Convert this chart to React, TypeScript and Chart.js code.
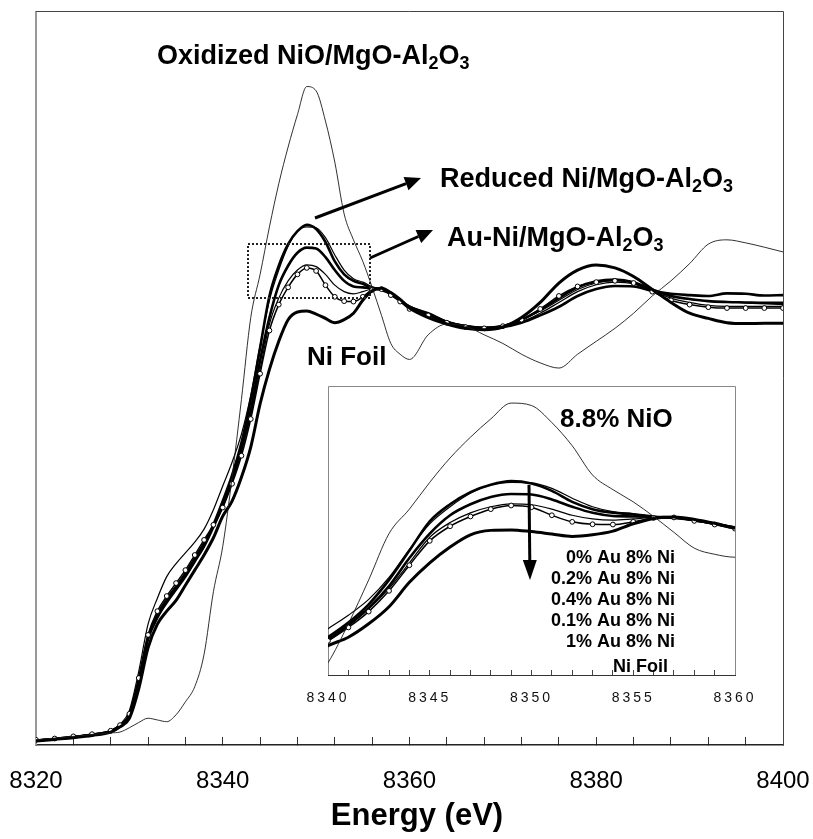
import React, { useEffect, useRef } from 'react';
import { Chart, registerables } from 'chart.js';

Chart.register(...registerables);

const FONT = 'Arial, "Liberation Sans", Helvetica, sans-serif';

// ---- data (normalized absorption vs energy in eV) ----
const energy = [8320, 8322, 8324, 8326, 8328, 8329, 8330, 8331, 8332, 8333, 8334, 8335, 8336, 8337, 8338, 8339,
  8340, 8341, 8342, 8343, 8344, 8345, 8346, 8347, 8348, 8349, 8350, 8351, 8352, 8353, 8354, 8355, 8356, 8357, 8358, 8359, 8360,
  8362, 8364, 8366, 8368, 8370, 8372, 8374, 8376, 8378, 8380, 8382, 8384, 8386, 8388, 8390, 8392, 8394, 8396, 8398, 8400];

const nioOxidized = [0.012, 0.016, 0.02, 0.024, 0.028, 0.03, 0.04, 0.052, 0.062, 0.058, 0.054, 0.07, 0.1, 0.135, 0.21, 0.355,
  0.46, 0.62, 0.8, 0.99, 1.09, 1.2, 1.3, 1.385, 1.46, 1.525, 1.515, 1.445, 1.35, 1.23, 1.17, 1.12, 1.06, 0.995, 0.93, 0.905, 0.893,
  0.95, 0.975, 0.97, 0.95, 0.93, 0.905, 0.885, 0.873, 0.905, 0.935, 0.965, 1.0, 1.04, 1.075, 1.115, 1.16, 1.17, 1.163, 1.153, 1.142];

const au0Ni8 = [0.01, 0.014, 0.018, 0.024, 0.032, 0.045, 0.07, 0.15, 0.25, 0.3, 0.335, 0.365, 0.395, 0.43, 0.465, 0.51,
  0.565, 0.625, 0.7, 0.8, 0.92, 1.04, 1.11, 1.16, 1.19, 1.205, 1.195, 1.165, 1.12, 1.09, 1.075, 1.068, 1.058, 1.054, 1.045, 1.03, 1.015,
  1.0, 0.98, 0.97, 0.966, 0.968, 0.978, 0.995, 1.015, 1.04, 1.056, 1.063, 1.062, 1.052, 1.045, 1.042, 1.04, 1.046, 1.045, 1.041, 1.042];

const au02Ni8 = [0.011, 0.015, 0.019, 0.025, 0.034, 0.048, 0.08, 0.17, 0.28, 0.34, 0.39, 0.42, 0.445, 0.47, 0.5, 0.545,
  0.6, 0.655, 0.72, 0.81, 0.925, 1.03, 1.1, 1.155, 1.19, 1.2, 1.198, 1.175, 1.135, 1.1, 1.08, 1.072, 1.062, 1.055, 1.045, 1.03, 1.016,
  1.0, 0.982, 0.972, 0.968, 0.972, 0.985, 1.005, 1.03, 1.055, 1.07, 1.076, 1.072, 1.055, 1.04, 1.032, 1.028, 1.026, 1.024, 1.022, 1.02];

const au04Ni8 = [0.01, 0.014, 0.018, 0.023, 0.031, 0.043, 0.068, 0.145, 0.245, 0.295, 0.33, 0.36, 0.39, 0.425, 0.46, 0.505,
  0.555, 0.615, 0.685, 0.775, 0.89, 0.99, 1.065, 1.11, 1.14, 1.152, 1.15, 1.13, 1.1, 1.075, 1.062, 1.06, 1.058, 1.056, 1.045, 1.03, 1.015,
  0.998, 0.98, 0.97, 0.965, 0.97, 0.985, 1.008, 1.035, 1.06, 1.074, 1.078, 1.072, 1.055, 1.04, 1.033, 1.028, 1.026, 1.025, 1.024, 1.024];

const au01Ni8 = [0.011, 0.014, 0.019, 0.024, 0.032, 0.044, 0.07, 0.15, 0.25, 0.305, 0.34, 0.37, 0.4, 0.435, 0.47, 0.505,
  0.55, 0.61, 0.68, 0.765, 0.87, 0.975, 1.035, 1.075, 1.1, 1.112, 1.108, 1.09, 1.065, 1.05, 1.045, 1.05, 1.056, 1.056, 1.045, 1.03, 1.012,
  0.995, 0.978, 0.968, 0.964, 0.968, 0.98, 1.0, 1.025, 1.05, 1.066, 1.072, 1.068, 1.052, 1.035, 1.025, 1.018, 1.016, 1.016, 1.016, 1.016];

const au1Ni8 = [0.012, 0.015, 0.02, 0.025, 0.033, 0.046, 0.072, 0.155, 0.255, 0.31, 0.345, 0.375, 0.405, 0.44, 0.475, 0.51,
  0.55, 0.605, 0.67, 0.755, 0.86, 0.96, 1.02, 1.06, 1.09, 1.105, 1.098, 1.065, 1.038, 1.028, 1.027, 1.038, 1.054, 1.056, 1.042, 1.027, 1.01,
  0.995, 0.978, 0.968, 0.965, 0.97, 0.985, 1.01, 1.04, 1.062, 1.072, 1.075, 1.07, 1.05, 1.03, 1.02, 1.014, 1.012, 1.012, 1.012, 1.012];

const niFoil = [0.009, 0.013, 0.017, 0.022, 0.03, 0.042, 0.062, 0.13, 0.225, 0.28, 0.31, 0.335, 0.37, 0.405, 0.44, 0.48,
  0.53, 0.565, 0.62, 0.69, 0.79, 0.87, 0.935, 0.985, 1.003, 1.005, 0.998, 0.988, 0.978, 0.985, 1.0, 1.03, 1.052, 1.058, 1.048, 1.032, 1.012,
  0.99, 0.975, 0.965, 0.962, 0.968, 0.99, 1.025, 1.07, 1.1, 1.112, 1.105, 1.085, 1.055, 1.025, 1.0, 0.988, 0.978, 0.976, 0.977, 0.977];

const mainRange = [8320, 8400];
const mainTickStep = 4;
const mainLabelStep = 20;
const insetRange = [8340, 8360];
const insetTickStep = 1;
const insetLabelStep = 5;

const insetTitle = '8.8% NiO';
const insetLegend = ['0% Au 8% Ni', '0.2% Au 8% Ni', '0.4% Au 8% Ni', '0.1% Au 8% Ni', '1% Au 8% Ni', 'Ni Foil'];
const axisTitle = 'Energy (eV)';

type Part = [string, boolean];
const labelOxidized: Part[] = [['Oxidized NiO/MgO-Al', false], ['2', true], ['O', false], ['3', true]];
const labelReduced: Part[] = [['Reduced Ni/MgO-Al', false], ['2', true], ['O', false], ['3', true]];
const labelAuNi: Part[] = [['Au-Ni/MgO-Al', false], ['2', true], ['O', false], ['3', true]];
const labelFoil: Part[] = [['Ni Foil', false]];

function pts(arr: number[]) {
  return energy.map((e, i) => ({ x: e, y: arr[i] }));
}

function makeDatasets() {
  const base = { pointRadius: 0, borderColor: '#000', cubicInterpolationMode: 'monotone' as const, fill: false };
  return [
    { ...base, label: 'NiO', data: pts(nioOxidized), borderWidth: 0.9, borderColor: '#1a1a1a' },
    { ...base, label: insetLegend[5], data: pts(niFoil), borderWidth: 3 },
    { ...base, label: insetLegend[4], data: pts(au1Ni8), borderWidth: 1.5, pointRadius: 2.4, pointBorderWidth: 1,
      pointBackgroundColor: '#fff', pointBorderColor: '#000' },
    { ...base, label: insetLegend[3], data: pts(au01Ni8), borderWidth: 1.2 },
    { ...base, label: insetLegend[2], data: pts(au04Ni8), borderWidth: 2.6 },
    { ...base, label: insetLegend[1], data: pts(au02Ni8), borderWidth: 1.2 },
    { ...base, label: insetLegend[0], data: pts(au0Ni8), borderWidth: 2.6 },
  ];
}

function drawRich(ctx: CanvasRenderingContext2D, parts: Part[], x: number, y: number, size: number) {
  const subSize = Math.round(size * 0.68);
  const fontFor = (sub: boolean) => `bold ${sub ? subSize : size}px ${FONT}`;
  ctx.textBaseline = 'alphabetic';
  ctx.textAlign = 'left';
  ctx.fillStyle = '#000';
  let cx = x;
  for (const [t, sub] of parts) {
    ctx.font = fontFor(sub);
    ctx.fillText(t, cx, sub ? y + size * 0.2 : y);
    cx += ctx.measureText(t).width;
  }
}

function arrow(ctx: CanvasRenderingContext2D, x1: number, y1: number, x2: number, y2: number, w: number, head: number, half: number) {
  const a = Math.atan2(y2 - y1, x2 - x1);
  const bx = x2 - head * Math.cos(a);
  const by = y2 - head * Math.sin(a);
  ctx.strokeStyle = '#000';
  ctx.lineWidth = w;
  ctx.setLineDash([]);
  ctx.beginPath();
  ctx.moveTo(x1, y1);
  ctx.lineTo(bx, by);
  ctx.stroke();
  ctx.fillStyle = '#000';
  ctx.beginPath();
  ctx.moveTo(x2, y2);
  ctx.lineTo(bx + half * Math.sin(a), by - half * Math.cos(a));
  ctx.lineTo(bx - half * Math.sin(a), by + half * Math.cos(a));
  ctx.closePath();
  ctx.fill();
}

const mainFrame = {
  id: 'mainFrame',
  beforeDatasetsDraw(chart: any) {
    const { ctx, chartArea: a } = chart;
    ctx.save();
    ctx.strokeStyle = '#999';
    ctx.lineWidth = 2;
    ctx.beginPath(); ctx.moveTo(a.left, a.top); ctx.lineTo(a.left, a.bottom); ctx.stroke();
    ctx.strokeStyle = '#444';
    ctx.lineWidth = 1;
    ctx.beginPath(); ctx.moveTo(a.left, a.top + 0.5); ctx.lineTo(a.right + 0.5, a.top + 0.5); ctx.lineTo(a.right + 0.5, a.bottom); ctx.stroke();
    ctx.restore();
  },
  afterDraw(chart: any) {
    const { ctx } = chart;
    ctx.save();
    drawRich(ctx, labelOxidized, 157, 64, 27);
    drawRich(ctx, labelReduced, 440, 187, 27);
    drawRich(ctx, labelAuNi, 447, 246, 27);
    drawRich(ctx, labelFoil, 307, 365, 26);
    arrow(ctx, 315, 218, 421, 178, 3, 16, 7);
    arrow(ctx, 370, 258, 433, 230, 3, 16, 7);
    ctx.strokeStyle = '#222';
    ctx.lineWidth = 2;
    ctx.setLineDash([2, 2]);
    ctx.strokeRect(248, 244, 122, 54);
    ctx.setLineDash([]);
    ctx.font = `bold 31px ${FONT}`;
    ctx.textAlign = 'center';
    ctx.textBaseline = 'alphabetic';
    ctx.fillStyle = '#000';
    ctx.fillText(axisTitle, 417, 825);
    ctx.restore();
  },
};

const insetFrame = {
  id: 'insetFrame',
  beforeDraw(chart: any) {
    const { ctx, chartArea: a } = chart;
    ctx.save();
    ctx.fillStyle = '#fff';
    ctx.fillRect(a.left, a.top, a.right - a.left, a.bottom - a.top);
    ctx.restore();
    (ctx as any).letterSpacing = '3px';
  },
  beforeDatasetsDraw(chart: any) {
    const { ctx, chartArea: a } = chart;
    (ctx as any).letterSpacing = '0px';
    ctx.save();
    ctx.strokeStyle = '#888';
    ctx.lineWidth = 1;
    ctx.beginPath();
    ctx.moveTo(a.left + 0.5, a.bottom); ctx.lineTo(a.left + 0.5, a.top + 0.5);
    ctx.lineTo(a.right + 0.5, a.top + 0.5); ctx.lineTo(a.right + 0.5, a.bottom);
    ctx.stroke();
    ctx.restore();
  },
  afterDraw(chart: any) {
    const { ctx } = chart;
    (ctx as any).letterSpacing = '0px';
    ctx.save();
    ctx.fillStyle = '#000';
    ctx.font = `bold 26px ${FONT}`;
    ctx.textAlign = 'left';
    ctx.textBaseline = 'alphabetic';
    ctx.fillText(insetTitle, 260, 57);
    ctx.font = `bold 18px ${FONT}`;
    ctx.textAlign = 'right';
    const baselines = [193, 214, 235, 256, 277, 302];
    insetLegend.forEach((t, i) => {
      ctx.fillText(t, i === 5 ? 368 : 375, baselines[i]);
    });
    arrow(ctx, 229, 115, 230, 210, 3, 20, 7);
    ctx.restore();
  },
};

function fitHeight(h: number) {
  return (s: any) => {
    s.height = h;
    s.paddingLeft = 0;
    s.paddingRight = 0;
  };
}

export default function App() {
  const mainRef = useRef<HTMLCanvasElement>(null);
  const insetRef = useRef<HTMLCanvasElement>(null);

  useEffect(() => {
    const main = new Chart(mainRef.current as HTMLCanvasElement, {
      type: 'line',
      data: { datasets: makeDatasets() as any },
      options: {
        animation: false,
        responsive: false,
        maintainAspectRatio: false,
        layout: { padding: { left: 36, right: 30, top: 11, bottom: 0 } },
        plugins: { legend: { display: false }, tooltip: { enabled: false } },
        scales: {
          x: {
            type: 'linear',
            min: mainRange[0],
            max: mainRange[1],
            afterFit: fitHeight(94),
            ticks: {
              stepSize: mainTickStep,
              autoSkip: false,
              maxRotation: 0,
              padding: 30,
              color: '#000',
              font: { size: 24, family: FONT },
              callback: (v: any) => (Number(v) % mainLabelStep === 0 ? String(v) : ''),
            },
            grid: { drawOnChartArea: false, drawTicks: true, tickLength: -8, color: '#333', lineWidth: 1 },
            border: { display: true, color: '#222', width: 1.5 },
          },
          y: { display: false, min: 0, max: 1.7 },
        },
      } as any,
      plugins: [mainFrame],
    });

    const inset = new Chart(insetRef.current as HTMLCanvasElement, {
      type: 'line',
      data: { datasets: makeDatasets() as any },
      options: {
        animation: false,
        responsive: false,
        maintainAspectRatio: false,
        layout: { padding: { left: 28, right: 45, top: 16, bottom: 0 } },
        plugins: { legend: { display: false }, tooltip: { enabled: false } },
        scales: {
          x: {
            type: 'linear',
            min: insetRange[0],
            max: insetRange[1],
            afterFit: fitHeight(40),
            ticks: {
              stepSize: insetTickStep,
              autoSkip: false,
              maxRotation: 0,
              padding: 20,
              color: '#111',
              font: { size: 14, family: FONT },
              callback: (v: any) => (Number(v) % insetLabelStep === 0 ? String(v) : ''),
            },
            grid: { drawOnChartArea: false, drawTicks: true, tickLength: -5, color: '#444', lineWidth: 1 },
            border: { display: true, color: '#333', width: 1 },
          },
          y: { display: false, min: 0.41, max: 1.595 },
        },
      } as any,
      plugins: [insetFrame],
    });

    return () => {
      main.destroy();
      inset.destroy();
    };
  }, []);

  return (
    <div style={{ position: 'absolute', left: 0, top: 0, width: 813, height: 839, background: '#fff', overflow: 'hidden' }}>
      <canvas ref={mainRef} width={813} height={839} style={{ position: 'absolute', left: 0, top: 0 }} />
      <canvas ref={insetRef} width={480} height={345} style={{ position: 'absolute', left: 300, top: 370 }} />
    </div>
  );
}
